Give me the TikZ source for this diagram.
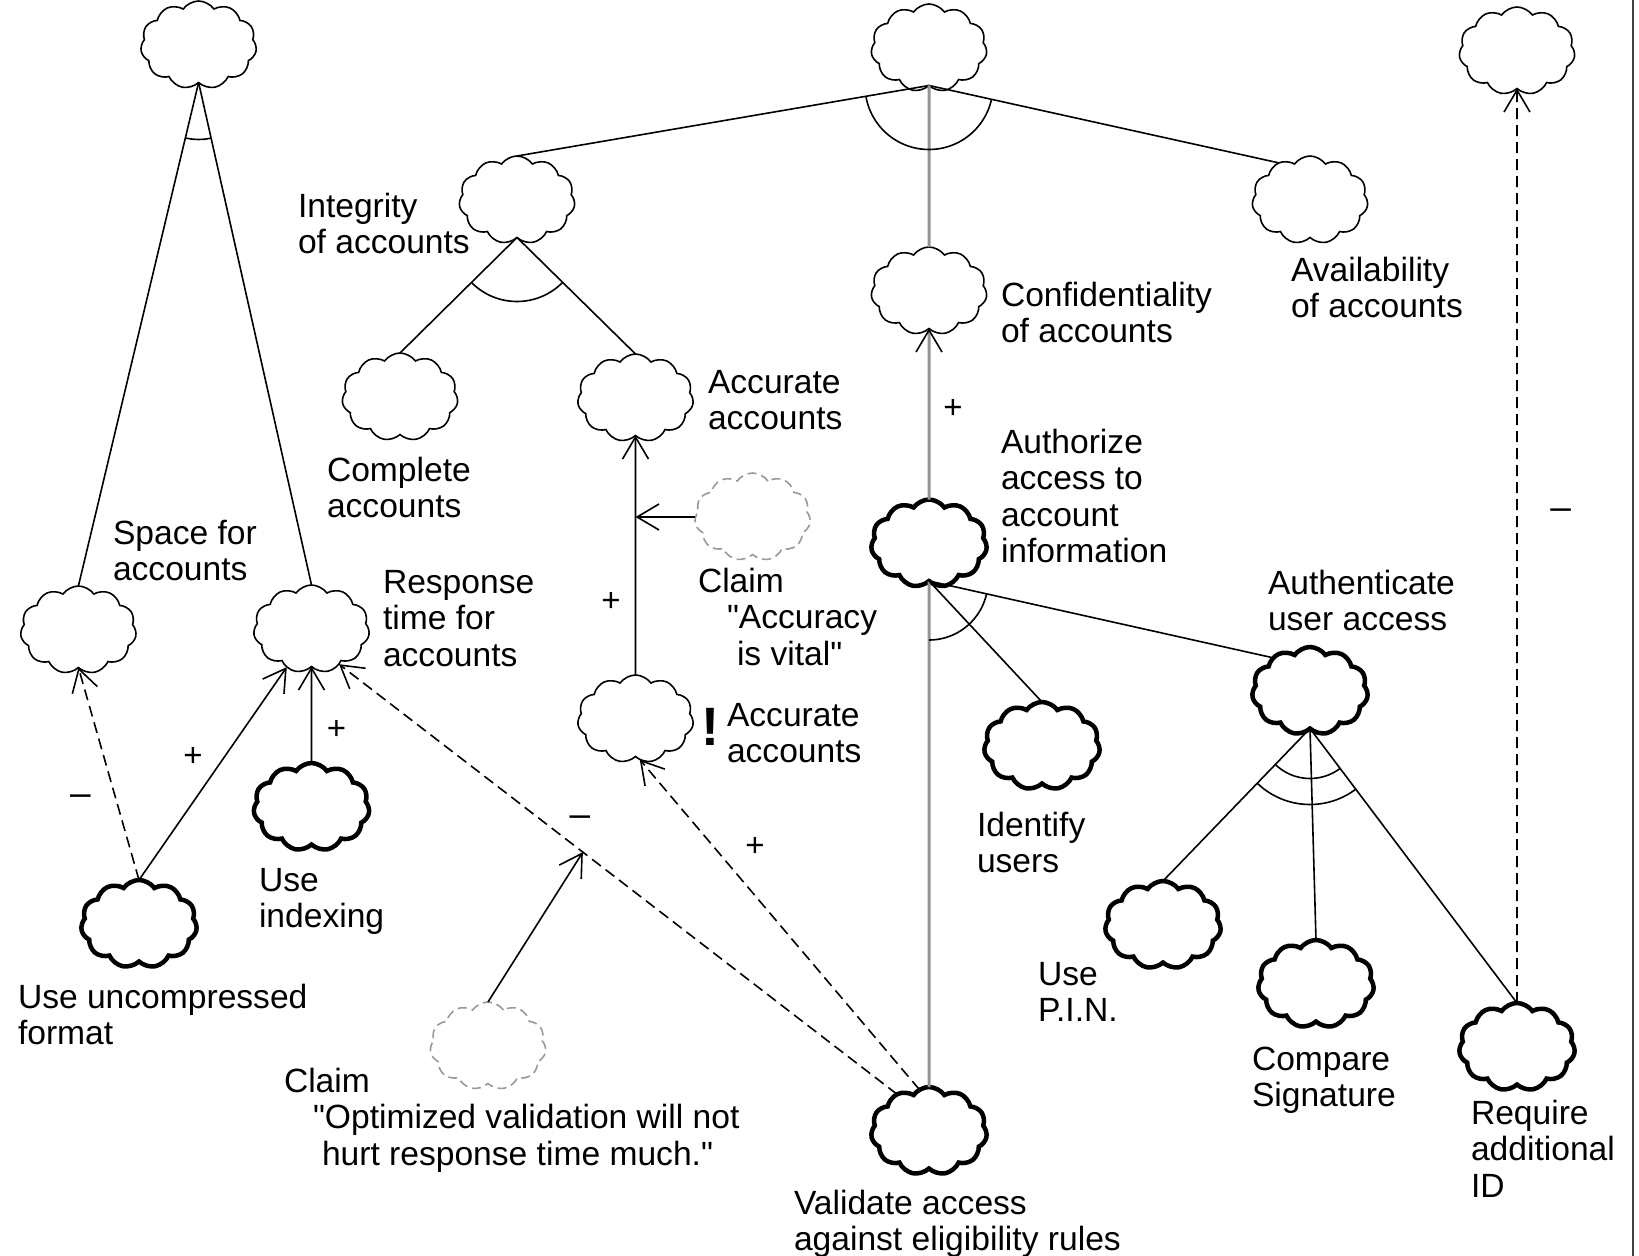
\documentclass[tikz,border=0pt]{standalone}
\usepackage{fontspec}
\setmainfont{Liberation Sans}[Ligatures=TeXOff]
\usetikzlibrary{shapes.symbols,arrows.meta,calc}

\begin{document}
\begin{tikzpicture}[x=1pt,y=-1pt,
  every node/.style={inner sep=0pt, outer sep=0pt},
  goal/.style={cloud, cloud puffs=11, cloud puff arc=110, cloud ignores aspect,
    minimum width=116pt, minimum height=88pt, draw, line width=1.6pt},
  opgoal/.style={goal, line width=4.5pt},
  claimgoal/.style={goal, draw=black!40, dash pattern=on 9pt off 5pt},
  lbl/.style={anchor=north west, align=left, font=\fontsize{33.6}{36.5}\selectfont},
  sgn/.style={font=\fontsize{33}{33}\selectfont},
  minus/.style={font=\fontsize{37}{37}\selectfont},
  link/.style={line width=1.6pt},
  tip/.style={-{Straight Barb[length=22pt,width=26pt,line width=1.6pt,color=black]}},
  contrib/.style={link, tip},
  neg/.style={dash pattern=on 11pt off 6pt},
  grayl/.style={line width=3pt, draw=black!42},
]
\useasboundingbox (0,0) rectangle (1639,1256);

% softgoals
\node[goal] (topL) at (198.6,45) {};
\node[goal] (topM) at (929,48) {};
\node[goal] (topR) at (1517,51) {};
\node[goal] (Integ) at (517,200) {};
\node[goal] (Conf) at (929,291) {};
\node[goal] (Avail) at (1310,200) {};
\node[goal] (Complete) at (400,397) {};
\node[goal] (AccTop) at (635.5,398) {};
\node[goal] (Space) at (78.4,630) {};
\node[goal] (Resp) at (311.5,629) {};
\node[goal] (AccExcl) at (635.5,719) {};

% operationalizations
\node[opgoal] (Authz) at (929,543.5) {};
\node[opgoal] (Identify) at (1042,746) {};
\node[opgoal] (Authn) at (1310,691) {};
\node[opgoal] (Index) at (311.5,807) {};
\node[opgoal] (Uncomp) at (139,924) {};
\node[opgoal] (PIN) at (1163,925) {};
\node[opgoal] (Compare) at (1316,984) {};
\node[opgoal] (Require) at (1517,1047) {};
\node[opgoal] (Validate) at (929,1131) {};

% claims
\node[claimgoal] (ClaimAcc) at (752.6,517) {};
\node[claimgoal] (ClaimOpt) at (488,1046) {};

% labels
\node[lbl] (tInteg) at (298,193) {Integrity\\of accounts};
\node[lbl] (tConf) at (1001,282) {Confidentiality\\of accounts};
\node[lbl] (tAvail) at (1291,257) {Availability\\of accounts};
\node[lbl] (tComplete) at (327,457) {Complete\\accounts};
\node[lbl] (tAccTop) at (708,370) {Accurate\\accounts};
\node[lbl] (tClaimAcc) at (698,568) {Claim\\\hspace*{29pt}"Accuracy\\\hspace*{39pt}is vital"};
\node[lbl] (tAuthz) at (1001,429) {Authorize\\access to\\account\\information};
\node[lbl] (tSpace) at (113,520) {Space for\\accounts};
\node[lbl] (tResp) at (383,570) {Response\\time for\\accounts};
\node[font=\fontsize{54}{54}\selectfont\bfseries, anchor=base] (tBang) at (710,745) {!};
\node[lbl] (tAccExcl) at (727,703) {Accurate\\accounts};
\node[lbl] (tAuthn) at (1268,570) {Authenticate\\user access};
\node[lbl] (tIdentify) at (977,812) {Identify\\users};
\node[lbl] (tIndex) at (259,868) {Use\\indexing};
\node[lbl] (tUncomp) at (18,984) {Use uncompressed\\format};
\node[lbl] (tPIN) at (1038,962) {Use\\P.I.N.};
\node[lbl] (tCompare) at (1252,1047) {Compare\\Signature};
\node[lbl] (tRequire) at (1471,1100) {Require\\additional\\ID};
\node[lbl] (tClaimOpt) at (284,1068) {Claim\\\hspace*{29pt}"Optimized validation will not\\\hspace*{38pt}hurt response time much."};
\node[lbl] (tValidate) at (794,1190) {Validate access\\against eligibility rules};

% decompositions
\draw[link] (topL.south) -- (Space.north);
\draw[link] (topL.south) -- (Resp.north);
\draw[link] (topM.south) -- (Integ.north);
\draw[link] (topM.south) -- (Avail.130);
\draw[grayl] (topM.south) -- (Conf.north);
\draw[link] (Integ.south) -- (Complete.north);
\draw[link] (Integ.south) -- (AccTop.north);
\draw[grayl] (Authz.south) -- (Validate.north);
\draw[link] (Authz.south) -- (Identify.north);
\draw[link] (Authz.south) -- (Authn.138);
\draw[link] (Authn.south) -- (PIN.north);
\draw[link] (Authn.south) -- (Compare.north);
\draw[link] (Authn.south) -- (Require.north);

% AND / OR arcs
\begin{scope}
  \clip (topL.south) -- (Space.north) -- (Resp.north) -- cycle;
  \draw[link] (topL.south) circle[radius=57];
\end{scope}
\begin{scope}
  \clip (topM.south) -- (Integ.north) -- (Avail.130) -- cycle;
  \draw[link] (topM.south) circle[radius=64];
\end{scope}
\begin{scope}
  \clip (Integ.south) -- (Complete.north) -- (AccTop.north) -- cycle;
  \draw[link] (Integ.south) circle[radius=64];
\end{scope}
\begin{scope}
  \clip (Authz.south) -- (Validate.north) -- (Authn.138) -- cycle;
  \draw[link] (Authz.south) circle[radius=59];
\end{scope}
\begin{scope}
  \clip (Authn.south) -- (PIN.north) -- (Require.north) -- cycle;
  \draw[link] (Authn.south) circle[radius=50];
  \draw[link] (Authn.south) circle[radius=76];
\end{scope}

% contributions
\draw[grayl, tip] (Authz.north) -- (Conf.south);
\draw[contrib] (AccExcl.north) -- (AccTop.south);
\coordinate (accpt) at (AccTop.south |- ClaimAcc.west);
\draw[contrib] (ClaimAcc.west) -- (accpt);
\draw[contrib, neg] (Uncomp.north) -- (Space.south);
\draw[contrib] (Uncomp.north) -- (Resp.237);
\draw[contrib] (Index.north) -- (Resp.south);
\draw[contrib, neg] (Validate.131) -- (Resp.-52);
\draw[contrib, neg] (Validate.103) -- (AccExcl.-84);
\coordinate (optpt) at ($(Resp.-52)!0.437!(Validate.131)$);
\draw[contrib] (ClaimOpt.north) -- (optpt);
\draw[contrib, neg] (Require.north) -- (topR.south);

% contribution signs
\node[minus] (s1) at (80.5,800) {–};
\node[sgn] (s2) at (193,757) {+};
\node[sgn] (s3) at (336.6,729.6) {+};
\node[minus] (s4) at (580,821) {–};
\node[sgn] (s5) at (755,847) {+};
\node[sgn] (s6) at (611,602) {+};
\node[sgn] (s7) at (953,409) {+};
\node[minus] (s8) at (1560.6,514) {–};

% frame edge
\draw[line width=2.5pt, black!75] (1633,0) -- (1633,1256);
\end{tikzpicture}
\end{document}
